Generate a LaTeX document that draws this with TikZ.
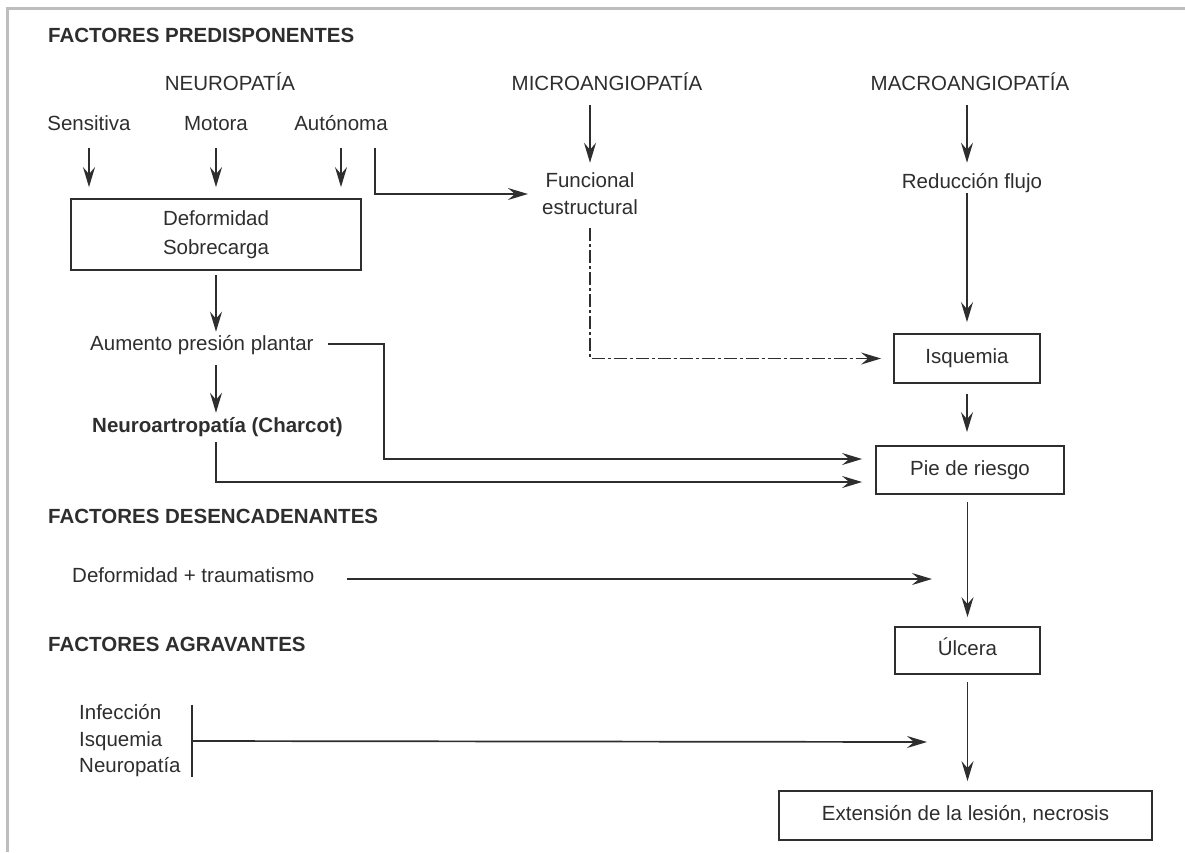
\documentclass[tikz,border=0pt]{standalone}
\usepackage{fontspec}
\setmainfont{Liberation Sans}
\usetikzlibrary{arrows.meta}
\definecolor{ink}{HTML}{2E2E2E}
\definecolor{rulegray}{HTML}{BEBEBE}

\begin{document}
\begin{tikzpicture}[x=1pt,y=-1pt,
		every node/.style={font=\fontsize{20.5}{27}\selectfont,text=ink,inner sep=0pt},
		head/.style={anchor=base west,font=\fontsize{20.5}{27}\selectfont\bfseries},
		box/.style={draw=ink,line width=1.8pt,text height=15pt,text depth=4.3pt},
		arr/.style={draw=ink,line width=1.7pt,-{Stealth[length=20pt,width=12pt,inset=7pt]}},
		dashdot/.style={dash pattern=on 13pt off 3pt on 3pt off 3pt}]
	\useasboundingbox (0,0) rectangle (1185,852);
	\draw[rulegray,line width=3pt] (7,852) -- (7,8) -- (1185,8);

	% predisponentes
	\node[head] (hpre) at (48,42) {FACTORES PREDISPONENTES};
	\node[anchor=base] (neurop) at (230,90) {NEUROPATÍA};
	\node[anchor=base] (micro) at (607,90) {MICROANGIOPATÍA};
	\node[anchor=base] (macro) at (970,90) {MACROANGIOPATÍA};
	\node[anchor=base] (sen) at (89,130) {Sensitiva};
	\node[anchor=base] (mot) at (216,130) {Motora};
	\node[anchor=base] (aut) at (341,130) {Autónoma};
	\node[draw=ink,line width=1.8pt,minimum width=290pt,minimum height=71pt,align=center,font=\fontsize{20.5}{29}\selectfont] (def) at (216,234.5) {Deformidad\\Sobrecarga};
	\node[align=center] (func) at (590,194) {Funcional\\estructural};
	\node[anchor=base] (red) at (972,188) {Reducción flujo};
	\node[box,minimum width=146pt,minimum height=49pt] (isq) at (967,358.5) {Isquemia};
	\node[anchor=base west] (aum) at (90,350) {Aumento presión plantar};
	\node[anchor=base west,font=\fontsize{20.5}{27}\selectfont\bfseries] (neu) at (92,432) {Neuroartropatía (Charcot)};
	\node[box,minimum width=188pt,minimum height=48pt] (pie) at (970,470) {Pie de riesgo};

	% desencadenantes, agravantes
	\node[head] (hdes) at (48,523) {FACTORES DESENCADENANTES};
	\node[anchor=base west] (trau) at (72,582) {Deformidad + traumatismo};
	\node[head] (hagr) at (48,651) {FACTORES AGRAVANTES};
	\node[box,minimum width=145pt,minimum height=47pt] (ulc) at (967.5,650.5) {Úlcera};
	\node[anchor=west,align=left,font=\fontsize{20.5}{26.5}\selectfont] (agr) at (79,741) {Infección\\Isquemia\\Neuropatía};
	\node[box,minimum width=373pt,minimum height=49pt] (ext) at (965.5,815.5) {Extensión de la lesión, necrosis};
	\coordinate (trautip) at (932,579);
	\coordinate (agrtip) at (927,742);

	\path[every edge/.style=arr]
		(sen.south) edge[shorten <=18pt,shorten >=11pt] (sen.south |- def.north)
		(mot.south) edge[shorten <=18pt,shorten >=11pt] (mot.south |- def.north)
		(aut.south) edge[shorten <=18pt,shorten >=11pt] (aut.south |- def.north)
		(micro.south -| func.north) edge[shorten <=15pt,shorten >=10pt] (func.north)
		(isq.north |- macro.south) edge[shorten <=15pt,shorten >=10pt] (isq.north |- red.north)
		(isq.north |- red.south) edge[shorten <=1pt,shorten >=11pt] (isq.north)
		(isq.south) edge[shorten <=10pt,shorten >=13pt] (isq.south |- pie.north)
		(ulc.north |- pie.south) edge[shorten <=7pt,shorten >=9pt] (ulc.north)
		(ulc.south) edge[shorten <=7pt,shorten >=9pt] (ulc.south |- ext.north)
		(def.south) edge[shorten <=4pt,shorten >=3pt] (def.south |- aum.north)
		(def.south |- aum.south) edge[shorten <=11pt,shorten >=4pt] (def.south |- neu.north)
		([yshift=3pt]trau.base east) edge[shorten <=32pt] (trautip)
		([xshift=11pt]agr.east) edge (agrtip);
	\draw[arr,shorten <=18pt,shorten >=14pt] ([xshift=34pt]aut.south) |- (func.west);
	\draw[arr,dashdot,shorten <=13pt,shorten >=12pt] (func.south) |- (isq.west);
	\draw[arr,shorten <=14pt,shorten >=13pt] ([yshift=6pt]aum.base east) -- ++(70,0) |- ([yshift=11pt]pie.west);
	\draw[arr,shorten <=6pt,shorten >=13pt] (def.south |- neu.south) |- ([yshift=-12pt]pie.west);
	\draw[ink,line width=1.7pt] ([xshift=11pt]agr.north east) -- ([xshift=11pt]agr.south east);
\end{tikzpicture}
\end{document}
